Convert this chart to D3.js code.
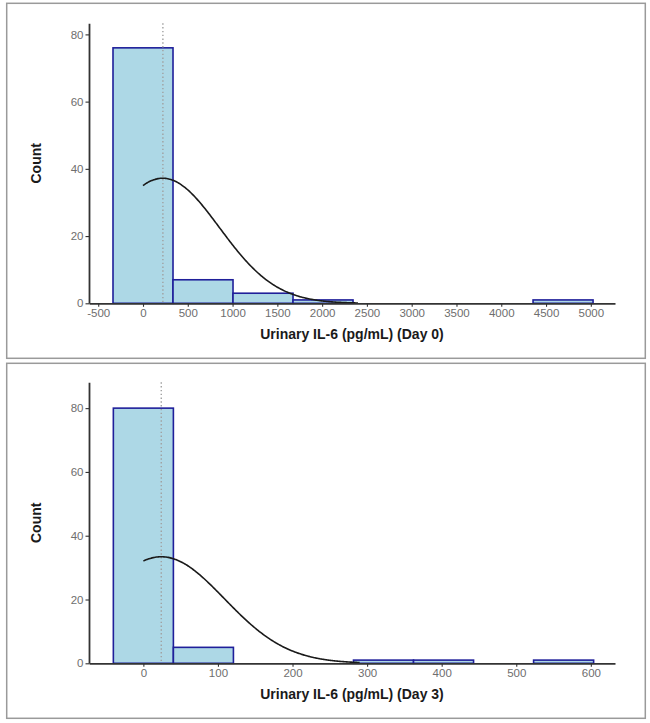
<!DOCTYPE html>
<html><head><meta charset="utf-8">
<script src="https://cdn.jsdelivr.net/npm/d3@7"></script>
<style>body{margin:0;background:#fff;} svg{display:block;}</style>
</head><body>
<svg id="c" width="650" height="723"></svg>
<script>
// ---- data ----
const day0Edges = [-335, 335, 1005, 1675, 2345, 3015, 3685, 4355, 5025];
const day0Counts = [76, 7, 3, 1, 0, 0, 0, 1];
const day0Ticks = [-500, 0, 500, 1000, 1500, 2000, 2500, 3000, 3500, 4000, 4500, 5000];
const day0Fit = {mean: 220, sd: 632, n: 88, binWidth: 670, curveMax: 2400};
const day0Line = 222;

const day3Edges = [-40.25, 40.25, 120.75, 201.25, 281.75, 362.25, 442.75, 523.25, 603.75];
const day3Counts = [80, 5, 0, 0, 1, 1, 0, 1];
const day3Ticks = [0, 100, 200, 300, 400, 500, 600];
const day3Fit = {mean: 24, sd: 84.6, n: 88, binWidth: 80.5, curveMax: 290};
const day3Line = 24;

const yTicks = [0, 20, 40, 60, 80];

const panels = [
  {edges: day0Edges, counts: day0Counts, ticks: day0Ticks, fit: day0Fit, line: day0Line,
   xDomain: [-603, 5270], yMax: 83.3, yBottom: 303.3, yTop: 23.3, title: "Urinary IL-6 (pg/mL) (Day 0)",
   box: [6.7, 3.3, 645.3, 358.3]},
  {edges: day3Edges, counts: day3Counts, ticks: day3Ticks, fit: day3Fit, line: day3Line,
   xDomain: [-72.9, 632.4], yMax: 88.1, yBottom: 663.3, yTop: 382.3, title: "Urinary IL-6 (pg/mL) (Day 3)",
   box: [6.7, 363.3, 645.3, 718.3]}
];

const svg = d3.select("#c");
const font = "'Liberation Sans', Arial, sans-serif";

panels.forEach(p => {
  const g = svg.append("g");
  g.append("rect").attr("x", p.box[0]).attr("y", p.box[1])
    .attr("width", p.box[2]-p.box[0]).attr("height", p.box[3]-p.box[1])
    .attr("fill", "#fff").attr("stroke", "#9a9a9a").attr("stroke-width", 1.5);

  const x = d3.scaleLinear().domain(p.xDomain).range([89, 615]);
  const y = d3.scaleLinear().domain([0, p.yMax]).range([p.yBottom, p.yTop]);

  const bins = p.counts.map((c, i) => ({x0: p.edges[i], x1: p.edges[i+1], c}));
  g.selectAll("rect.bar").data(bins.filter(b => b.c > 0)).join("rect")
    .attr("class", "bar")
    .attr("x", d => x(d.x0)).attr("width", d => x(d.x1) - x(d.x0))
    .attr("y", d => y(d.c)).attr("height", d => y(0) - y(d.c))
    .attr("fill", "#ADD8E6").attr("stroke", "#1f1f9a").attr("stroke-width", 1.6);

  // dotted reference line
  g.append("line").attr("x1", x(p.line)).attr("x2", x(p.line))
    .attr("y1", p.yTop).attr("y2", p.yBottom)
    .attr("stroke", "#a0a0a0").attr("stroke-width", 1.4).attr("stroke-dasharray", "1.4,2.4");

  // normal fit curve
  const f = p.fit;
  const xs = d3.range(0, f.curveMax + 1e-9, f.curveMax / 200);
  const dens = v => f.n * f.binWidth * Math.exp(-0.5 * Math.pow((v - f.mean) / f.sd, 2)) / (f.sd * Math.sqrt(2 * Math.PI));
  g.append("path").datum(xs)
    .attr("d", d3.line().x(v => x(v)).y(v => y(dens(v))).curve(d3.curveBasis))
    .attr("fill", "none").attr("stroke", "#1a1a1a").attr("stroke-width", 1.6);

  // axes
  const fmt = d => String(d);
  const xa = g.append("g").attr("transform", `translate(0,${p.yBottom})`)
    .call(d3.axisBottom(x).tickValues(p.ticks).tickFormat(fmt).tickSize(3.5).tickPadding(2).tickSizeOuter(0));
  const ya = g.append("g").attr("transform", `translate(89,0)`)
    .call(d3.axisLeft(y).tickValues(yTicks).tickFormat(fmt).tickSize(3.5).tickPadding(2).tickSizeOuter(0));
  [xa, ya].forEach(a => {
    a.select(".domain").attr("stroke", "#333").attr("stroke-width", 1.8);
    a.selectAll(".tick line").attr("stroke", "#333").attr("stroke-width", 1.1);
    a.selectAll(".tick text").attr("fill", "#6e6e6e").style("font-family", font).style("font-size", "11.5px");
  });

  g.append("text").attr("x", 352).attr("y", p.yBottom + 36)
    .attr("text-anchor", "middle").style("font-family", font).style("font-weight", "bold")
    .style("font-size", "14px").attr("fill", "#1a1a1a").text(p.title);
  g.append("text").attr("transform", `translate(41,${(p.yTop + p.yBottom) / 2}) rotate(-90)`)
    .attr("text-anchor", "middle").style("font-family", font).style("font-weight", "bold")
    .style("font-size", "14px").attr("fill", "#1a1a1a").text("Count");
});
</script>
</body></html>
